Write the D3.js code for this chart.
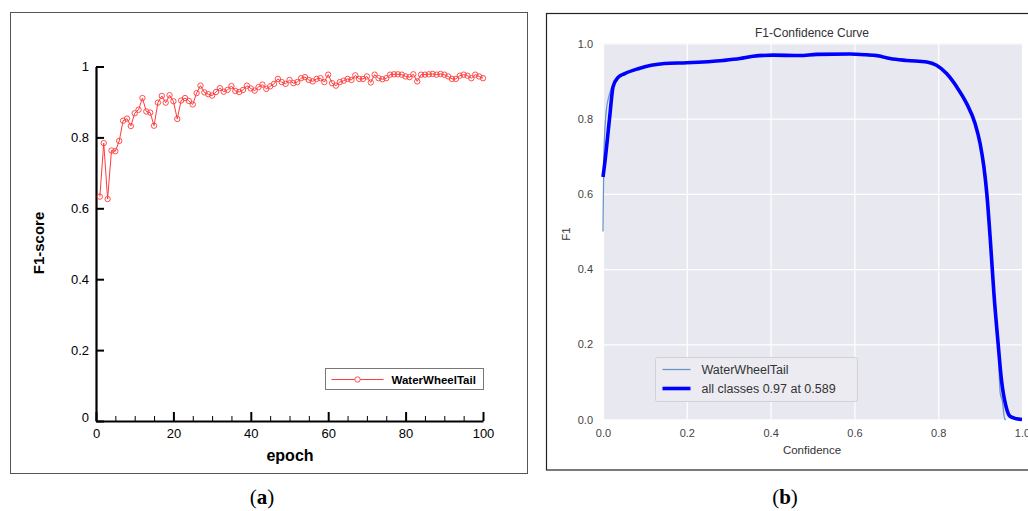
<!DOCTYPE html>
<html lang="en">
<head>
<meta charset="utf-8">
<script src="https://cdn.jsdelivr.net/npm/d3@7"></script>
<style>
  body { margin: 0; background: #fff; }
  svg { display: block; }
</style>
</head>
<body>
<div id="chart"></div>
<script>
// (a) F1-score per epoch
var epochs = d3.range(1, 101);
var f1Scores = [
  0.633, 0.784, 0.626, 0.763, 0.761, 0.790, 0.847, 0.853, 0.832, 0.868,
  0.878, 0.911, 0.873, 0.870, 0.833, 0.898, 0.917, 0.898, 0.919, 0.902,
  0.852, 0.904, 0.911, 0.903, 0.893, 0.925, 0.946, 0.927, 0.922, 0.918,
  0.928, 0.939, 0.929, 0.934, 0.945, 0.931, 0.928, 0.934, 0.946, 0.938,
  0.932, 0.942, 0.949, 0.937, 0.944, 0.951, 0.965, 0.956, 0.951, 0.962,
  0.953, 0.956, 0.967, 0.970, 0.962, 0.958, 0.965, 0.967, 0.956, 0.977,
  0.953, 0.946, 0.956, 0.960, 0.965, 0.962, 0.975, 0.965, 0.965, 0.972,
  0.955, 0.977, 0.967, 0.964, 0.967, 0.977, 0.978, 0.978, 0.977, 0.972,
  0.970, 0.978, 0.958, 0.977, 0.977, 0.978, 0.979, 0.977, 0.979, 0.977,
  0.972, 0.965, 0.965, 0.974, 0.977, 0.974, 0.967, 0.977, 0.972, 0.967
];
var epochTicks = [0, 20, 40, 60, 80, 100];
var epochMinor = [5, 10, 15, 25, 30, 35, 45, 50, 55, 65, 70, 75, 85, 90, 95];
var f1Ticks = [0, 0.2, 0.4, 0.6, 0.8, 1];

// (b) F1-Confidence curve
var confAll = [0, 0.004, 0.016, 0.024, 0.036, 0.052, 0.084, 0.115, 0.147, 0.2,
  0.287, 0.327, 0.358, 0.406, 0.47, 0.51, 0.589, 0.629, 0.653, 0.685,
  0.725, 0.773, 0.796, 0.82, 0.844, 0.868, 0.888, 0.9, 0.909, 0.916,
  0.925, 0.933, 0.943, 0.951, 0.962, 0.971, 0.983, 1.0];
var f1All = [0.645, 0.68, 0.805, 0.885, 0.91, 0.92, 0.933, 0.942, 0.947, 0.949,
  0.955, 0.96, 0.966, 0.969, 0.968, 0.971, 0.972, 0.970, 0.968, 0.96,
  0.955, 0.951, 0.942, 0.92, 0.885, 0.84, 0.787, 0.734, 0.672, 0.601,
  0.468, 0.335, 0.202, 0.105, 0.034, 0.009, 0.003, 0.0];
var confClass = [0, 0.002, 0.008, 0.016, 0.03, 0.052, 0.084, 0.147, 0.2, 0.287,
  0.406, 0.51, 0.589, 0.685, 0.773, 0.82, 0.868, 0.9, 0.916, 0.925,
  0.933, 0.943, 0.948, 0.953, 0.959, 0.962];
var f1Class = [0.5, 0.7, 0.823, 0.867, 0.9, 0.92, 0.933, 0.947, 0.949, 0.955,
  0.969, 0.971, 0.972, 0.96, 0.951, 0.922, 0.84, 0.738, 0.62, 0.47,
  0.33, 0.2, 0.07, 0.05, 0.0, 0.0];
var confTicks = [0, 0.2, 0.4, 0.6, 0.8, 1.0];
var legendA = "WaterWheelTail";
var legendB = ["WaterWheelTail", "all classes 0.97 at 0.589"];

var W = 1028, H = 511;
var svg = d3.select("#chart").append("svg")
  .attr("width", W).attr("height", H)
  .style("font-family", "'Liberation Sans', Arial, sans-serif");

// ---------- panel (a) ----------
svg.append("rect")
  .attr("x", 10.5).attr("y", 12.5).attr("width", 517).attr("height", 461)
  .attr("fill", "none").attr("stroke", "#555").attr("stroke-width", 1);

var xA = d3.scaleLinear().domain([0, 100]).range([96, 483]);
var yA = d3.scaleLinear().domain([0, 1]).range([421, 66.5]);

var gA = svg.append("g");

// minor x ticks
gA.append("g")
  .attr("transform", "translate(0," + yA(0) + ")")
  .call(d3.axisBottom(xA).tickValues(epochMinor).tickSize(-5).tickSizeOuter(0).tickFormat(""))
  .call(function(g){ g.select(".domain").remove(); })
  .selectAll("line").attr("stroke", "#000").attr("stroke-width", 1);

var xAxisA = gA.append("g")
  .attr("transform", "translate(0," + yA(0) + ")")
  .call(d3.axisBottom(xA).tickValues(epochTicks).tickSize(-9).tickSizeOuter(0).tickPadding(4));
xAxisA.select(".domain").attr("stroke", "#000").attr("stroke-width", 2.2);
xAxisA.selectAll("line").attr("stroke", "#000").attr("stroke-width", 2);
xAxisA.selectAll("text").attr("font-size", 13).attr("fill", "#000").attr("dy", "1.0em");

var yAxisA = gA.append("g")
  .attr("transform", "translate(" + xA(0) + ",0)")
  .call(d3.axisLeft(yA).tickValues(f1Ticks).tickSize(-8).tickSizeOuter(0).tickPadding(7)
    .tickFormat(d3.format("~g")));
yAxisA.select(".domain").attr("stroke", "#000").attr("stroke-width", 2.2);
yAxisA.selectAll("line").attr("stroke", "#000").attr("stroke-width", 2);
yAxisA.selectAll("text").attr("font-size", 13).attr("fill", "#000");
yAxisA.selectAll(".tick").filter(function(d){ return d === 0; })
  .select("text").attr("dy", "0.05em");

// data line + circles
var lineA = d3.line().x(function(d, i){ return xA(epochs[i]); }).y(function(d){ return yA(d); });
gA.append("path").datum(f1Scores)
  .attr("d", lineA).attr("fill", "none").attr("stroke", "#ff3b3b").attr("stroke-width", 1);
gA.selectAll("circle.pt").data(f1Scores).enter().append("circle")
  .attr("class", "pt")
  .attr("cx", function(d, i){ return xA(epochs[i]); })
  .attr("cy", function(d){ return yA(d); })
  .attr("r", 2.7)
  .attr("fill", "none").attr("stroke", "#ff3b3b").attr("stroke-width", 0.9);

// axis titles
gA.append("text")
  .attr("transform", "translate(44,243) rotate(-90)")
  .attr("text-anchor", "middle").attr("font-size", 15).attr("font-weight", "bold")
  .text("F1-score");
gA.append("text")
  .attr("x", 290).attr("y", 461)
  .attr("text-anchor", "middle").attr("font-size", 16).attr("font-weight", "bold")
  .text("epoch");

// legend
var legA = gA.append("g").attr("transform", "translate(325.5,368.5)");
legA.append("rect").attr("width", 158).attr("height", 21)
  .attr("fill", "#fff").attr("stroke", "#777").attr("stroke-width", 1);
legA.append("line").attr("x1", 6).attr("x2", 58).attr("y1", 11).attr("y2", 11)
  .attr("stroke", "#ff3b3b").attr("stroke-width", 1);
legA.append("circle").attr("cx", 32).attr("cy", 11).attr("r", 2.7)
  .attr("fill", "#fff").attr("stroke", "#ff3b3b").attr("stroke-width", 0.9);
legA.append("text").attr("x", 66).attr("y", 15.5)
  .attr("font-size", 11.5).attr("font-weight", "bold").text(legendA);

svg.append("text").attr("x", 262).attr("y", 504).attr("text-anchor", "middle")
  .attr("font-family", "'Liberation Serif', 'DejaVu Serif', serif").attr("font-size", 21)
  .html("(<tspan font-weight='bold'>a</tspan>)");

// ---------- panel (b) ----------
svg.append("rect")
  .attr("x", 546.5).attr("y", 13.5).attr("width", 500).attr("height", 456.5)
  .attr("fill", "none").attr("stroke", "#222").attr("stroke-width", 1.2);

var xB = d3.scaleLinear().domain([0, 1]).range([603, 1022]);
var yB = d3.scaleLinear().domain([0, 1]).range([419.5, 43.5]);
var gB = svg.append("g");

gB.append("rect")
  .attr("x", xB(0)).attr("y", yB(1))
  .attr("width", xB(1) - xB(0)).attr("height", yB(0) - yB(1))
  .attr("fill", "#e8e8f0");

// grid
gB.append("g").attr("transform", "translate(0," + yB(0) + ")")
  .call(d3.axisBottom(xB).tickValues(confTicks).tickSize(-(yB(0) - yB(1))).tickFormat(""))
  .call(function(g){ g.select(".domain").remove(); })
  .selectAll("line").attr("stroke", "#fff").attr("stroke-width", 1.2);
gB.append("g").attr("transform", "translate(" + xB(0) + ",0)")
  .call(d3.axisLeft(yB).tickValues(confTicks).tickSize(-(xB(1) - xB(0))).tickFormat(""))
  .call(function(g){ g.select(".domain").remove(); })
  .selectAll("line").attr("stroke", "#fff").attr("stroke-width", 1.2);

// tick labels
var xAxisB = gB.append("g").attr("transform", "translate(0," + yB(0) + ")")
  .call(d3.axisBottom(xB).tickValues(confTicks).tickSize(0).tickPadding(10).tickFormat(d3.format(".1f")));
xAxisB.select(".domain").remove();
xAxisB.selectAll("text").attr("font-size", 11).attr("fill", "#444");
var yAxisB = gB.append("g").attr("transform", "translate(" + xB(0) + ",0)")
  .call(d3.axisLeft(yB).tickValues(confTicks).tickSize(0).tickPadding(10).tickFormat(d3.format(".1f")));
yAxisB.select(".domain").remove();
yAxisB.selectAll("text").attr("font-size", 11).attr("fill", "#444");

// curves
var lineClass = d3.line().curve(d3.curveMonotoneX)
  .x(function(d, i){ return xB(confClass[i]); }).y(function(d){ return yB(d); });
var lineAll = d3.line().curve(d3.curveMonotoneX)
  .x(function(d, i){ return xB(confAll[i]); }).y(function(d){ return yB(d); });
gB.append("path").datum(f1Class).attr("d", lineClass)
  .attr("fill", "none").attr("stroke", "#6b95c9").attr("stroke-width", 1.3);
gB.append("path").datum(f1All).attr("d", lineAll)
  .attr("fill", "none").attr("stroke", "#0000ff").attr("stroke-width", 3.6)
  .attr("stroke-linejoin", "round");

// titles
gB.append("text").attr("x", 812).attr("y", 37).attr("text-anchor", "middle")
  .attr("font-size", 12).attr("fill", "#333").text("F1-Confidence Curve");
gB.append("text").attr("x", 812).attr("y", 454).attr("text-anchor", "middle")
  .attr("font-size", 11.5).attr("fill", "#333").text("Confidence");
gB.append("text").attr("transform", "translate(570,234) rotate(-90)")
  .attr("text-anchor", "middle").attr("font-size", 11.5).attr("fill", "#333").text("F1");

// legend
var legB = gB.append("g").attr("transform", "translate(655.5,357.5)");
legB.append("rect").attr("width", 202).attr("height", 44).attr("rx", 2)
  .attr("fill", "#ebebf1").attr("stroke", "#d0d0d6").attr("stroke-width", 1);
legB.append("line").attr("x1", 7).attr("x2", 35).attr("y1", 12).attr("y2", 12)
  .attr("stroke", "#6b95c9").attr("stroke-width", 1.3);
legB.append("line").attr("x1", 7).attr("x2", 35).attr("y1", 31).attr("y2", 31)
  .attr("stroke", "#0000ff").attr("stroke-width", 3.6);
legB.selectAll("text.lb").data(legendB).enter().append("text")
  .attr("class", "lb")
  .attr("x", 46).attr("y", function(d, i){ return 16.5 + i * 19; })
  .attr("font-size", 12.5).attr("fill", "#333").text(function(d){ return d; });

svg.append("text").attr("x", 785).attr("y", 504).attr("text-anchor", "middle")
  .attr("font-family", "'Liberation Serif', 'DejaVu Serif', serif").attr("font-size", 21)
  .html("(<tspan font-weight='bold'>b</tspan>)");
</script>
</body>
</html>
